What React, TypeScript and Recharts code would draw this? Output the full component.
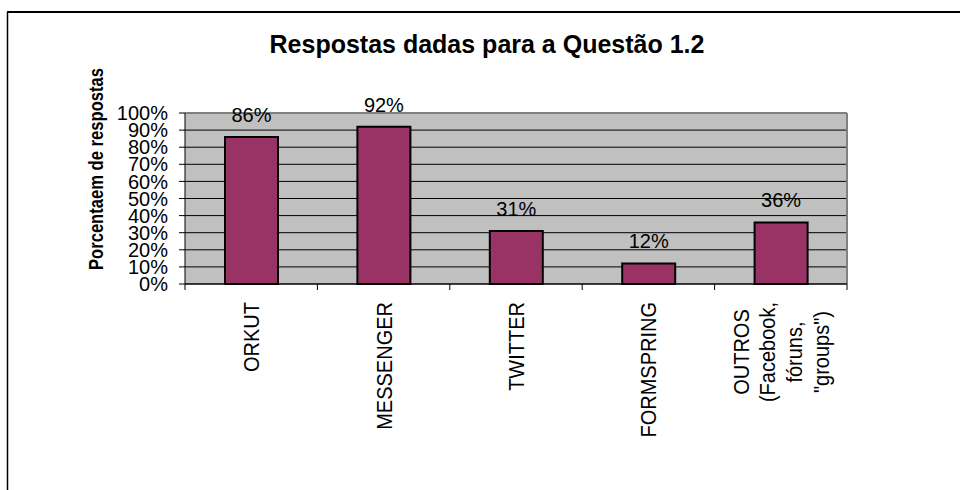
import React from 'react';
import { BarChart, Bar, XAxis, YAxis, CartesianGrid, LabelList } from 'recharts';

const categories = ['ORKUT', 'MESSENGER', 'TWITTER', 'FORMSPRING', 'OUTROS\n(Facebook,\nfóruns,\n"groups")'];
const percentages = [86, 92, 31, 12, 36];
const yTicks = [0, 10, 20, 30, 40, 50, 60, 70, 80, 90, 100];

const title = 'Respostas dadas para a Questão 1.2';
const yLabel = 'Porcentaem de respostas';

const FONT = '"Liberation Sans", Arial, sans-serif';

const data = categories.map((name, i) => ({ name, value: percentages[i] }));

let ctx: CanvasRenderingContext2D | null = null;
const measure = (s: string) => {
  if (!ctx) ctx = document.createElement('canvas').getContext('2d');
  if (!ctx) return s.length * 10;
  ctx.font = '20px "Liberation Sans", Arial, sans-serif';
  return ctx.measureText(s).width;
};

// category labels: rotated, slightly condensed like the original
const XTick = (props: any) => {
  const { x, y, payload, index, visibleTicksCount } = props;
  const half = payload.offset || 0;
  const axisY = y - 18;
  const lines: string[] = String(payload.value).split('\n');
  const lineH = 26.7;
  const widths = lines.map(measure);
  const maxW = Math.max(...widths);
  const cy = y + maxW / 2;
  return (
    <g>
      <line x1={x - half} x2={x - half} y1={axisY} y2={axisY + 6} stroke="#000" />
      {index === visibleTicksCount - 1 && (
        <line x1={x + half} x2={x + half} y1={axisY} y2={axisY + 6} stroke="#000" />
      )}
      {lines.map((ln, i) => {
        const bx = x + (i - (lines.length - 1) / 2) * lineH;
        return (
          <text
            key={i}
            x={bx}
            y={cy}
            dy="0.36em"
            transform={`rotate(-90, ${bx}, ${cy})`}
            textAnchor="middle"
            fontSize={22}
            textLength={widths[i]}
            lengthAdjust="spacingAndGlyphs"
            fill="#000"
          >
            {ln}
          </text>
        );
      })}
    </g>
  );
};

export default function App() {
  return (
    <div style={{ position: 'absolute', left: 0, top: 0, width: 960, height: 490, background: '#fff', fontFamily: FONT }}>
      <BarChart
        width={960}
        height={490}
        data={data}
        margin={{ top: 113, right: 113, bottom: 0, left: 0 }}
        style={{ fontFamily: FONT }}
      >
        <CartesianGrid fill="#C0C0C0" stroke="#000" vertical={false} />
        <CartesianGrid
          fill="none"
          stroke="#808080"
          strokeWidth={2}
          horizontalCoordinatesGenerator={({ offset }: any) => [offset.top]}
          verticalCoordinatesGenerator={({ offset }: any) => [offset.left + offset.width]}
        />
        <XAxis
          dataKey="name"
          height={206}
          interval={0}
          tickSize={6}
          tickMargin={12}
          tickLine={false}
          axisLine={{ stroke: '#000' }}
          tick={<XTick />}
        />
        <YAxis
          type="number"
          domain={[0, 100]}
          ticks={yTicks}
          interval={0}
          width={185}
          tickSize={6}
          tickMargin={11}
          tickFormatter={(v: number) => `${v}%`}
          tick={{ fontSize: 20, fill: '#000' }}
          tickLine={{ stroke: '#000' }}
          axisLine={{ stroke: '#000' }}
        />
        <Bar dataKey="value" fill="#993366" stroke="#000" strokeWidth={2} barSize={53} isAnimationActive={false}>
          <LabelList
            dataKey="value"
            position="top"
            offset={15}
            formatter={(v: any) => `${v}%`}
            style={{ fontSize: 20, fill: '#000' }}
          />
        </Bar>
      </BarChart>
      <svg
        width={960}
        height={490}
        style={{ position: 'absolute', left: 0, top: 0, pointerEvents: 'none', fontFamily: FONT }}
      >
        <line x1={7} y1={12} x2={960} y2={12} stroke="#000" strokeWidth={2} />
        <line x1={7.5} y1={12} x2={7.5} y2={490} stroke="#000" strokeWidth={1.5} />
        <text x={487} y={53} textAnchor="middle" fontSize={25} fontWeight="bold" fill="#000">
          {title}
        </text>
        <text
          x={103}
          y={169}
          transform="rotate(-90, 103, 169)"
          textAnchor="middle"
          fontSize={21}
          fontWeight="bold"
          textLength={202}
          lengthAdjust="spacingAndGlyphs"
          fill="#000"
        >
          {yLabel}
        </text>
      </svg>
    </div>
  );
}
